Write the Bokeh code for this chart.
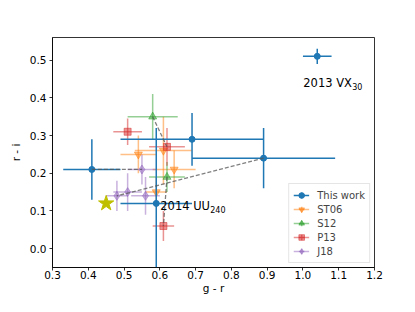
from bokeh.plotting import figure
from bokeh.models import ColumnDataSource, Range1d, FixedTicker, Legend, LegendItem, NumeralTickFormatter
from bokeh.embed import file_html
from bokeh.resources import INLINE
from bokeh.core.properties import value

# ---- data (g - r, r - i) ----
tw_x = [1.04, 0.41, 0.59, 0.69, 0.89]
tw_y = [0.51, 0.21, 0.12, 0.29, 0.24]
tw_xerr = [0.04, 0.08, 0.10, 0.20, 0.20]
tw_yerr = [0.02, 0.08, 0.20, 0.07, 0.08]

st06_x = [0.54, 0.61, 0.64, 0.59]
st06_y = [0.25, 0.26, 0.21, 0.15]
st06_xerr = [0.05, 0.08, 0.06, 0.03]
st06_yerr = [0.05, 0.09, 0.05, 0.04]

s12_x = [0.58, 0.62]
s12_y = [0.35, 0.19]
s12_xerr = [0.07, 0.05]
s12_yerr = [0.06, 0.04]

p13_x = [0.51, 0.62, 0.61]
p13_y = [0.31, 0.27, 0.06]
p13_xerr = [0.04, 0.05, 0.03]
p13_yerr = [0.035, 0.05, 0.04]

j18_x = [0.55, 0.48, 0.51, 0.56]
j18_y = [0.21, 0.14, 0.15, 0.14]
j18_xerr = [0.04, 0.03, 0.04, 0.04]
j18_yerr = [0.04, 0.04, 0.05, 0.05]

sun_x = [0.45]
sun_y = [0.12]

# same-object links: (series, index) -> (series, index)
link_from = [("tw", 1), ("tw", 4), ("s12", 0), ("s12", 1)]
link_to = [("j18", 0), ("j18", 1), ("p13", 1), ("p13", 2)]

# labelled objects (index in "This work"), main text, subscript
label_idx = [0, 2]
label_main = ["2013 VX", "2014 UU"]
label_sub = ["30", "240"]

x_ticks = [0.3, 0.4, 0.5, 0.6, 0.7, 0.8, 0.9, 1.0, 1.1, 1.2]
y_ticks = [0.0, 0.1, 0.2, 0.3, 0.4, 0.5]

series = {
    "tw": (tw_x, tw_y, tw_xerr, tw_yerr),
    "st06": (st06_x, st06_y, st06_xerr, st06_yerr),
    "s12": (s12_x, s12_y, s12_xerr, s12_yerr),
    "p13": (p13_x, p13_y, p13_xerr, p13_yerr),
    "j18": (j18_x, j18_y, j18_xerr, j18_yerr),
}
style = {
    "tw": dict(name="This work", color="#1f77b4", marker="circle", size=6, alpha=1.0),
    "st06": dict(name="ST06", color="#ff7f0e", marker="inverted_triangle", size=8, alpha=0.5),
    "s12": dict(name="S12", color="#2ca02c", marker="triangle", size=8, alpha=0.5),
    "p13": dict(name="P13", color="#d62728", marker="square", size=7, alpha=0.5),
    "j18": dict(name="J18", color="#9467bd", marker="diamond", size=9, alpha=0.5),
}

FONT = "DejaVu Sans"
NAN = float("nan")

p = figure(width=399, height=296, output_backend="svg", toolbar_location=None,
           x_range=Range1d(0.3, 1.2), y_range=Range1d(-0.05, 0.56),
           min_border_left=52, min_border_right=25, min_border_top=37, min_border_bottom=20)
p.grid.visible = False
p.background_fill_color = "white"
p.border_fill_color = "white"
p.outline_line_color = "black"
p.outline_line_width = 0.8

for ax in (p.xaxis[0], p.yaxis[0]):
    ax.major_label_text_font = FONT
    ax.major_label_text_font_size = "10.5px"
    ax.major_label_text_color = "black"
    ax.major_label_text_line_height = 0.9
    ax.axis_label_text_font = FONT
    ax.axis_label_text_font_size = "10.5px"
    ax.axis_label_text_font_style = "normal"
    ax.axis_label_text_color = "black"
    ax.axis_label_text_line_height = 0.9
    ax.major_tick_in = 0
    ax.major_tick_out = 3
    ax.minor_tick_in = 0
    ax.minor_tick_out = 0
    ax.axis_line_width = 0.8
    ax.major_tick_line_width = 0.8
    ax.formatter = NumeralTickFormatter(format="0.0")

p.xaxis[0].major_label_standoff = 0
p.xaxis[0].axis_label_standoff = 0
p.yaxis[0].major_label_standoff = 3
p.yaxis[0].axis_label_standoff = 5

p.xaxis[0].ticker = FixedTicker(ticks=x_ticks)
p.yaxis[0].ticker = FixedTicker(ticks=y_ticks)
p.xaxis[0].axis_label = "g - r"
p.yaxis[0].axis_label = "r - i"

order = ["st06", "s12", "p13", "j18", "tw"]
renderers = {}
for key in order:
    xs, ys, xe, ye = series[key]
    st = style[key]
    src = ColumnDataSource(dict(
        x=xs, y=ys,
        xl=[a - b for a, b in zip(xs, xe)], xr=[a + b for a, b in zip(xs, xe)],
        yb=[a - b for a, b in zip(ys, ye)], yt=[a + b for a, b in zip(ys, ye)],
    ))
    hs = p.segment(x0="xl", y0="y", x1="xr", y1="y", source=src, line_color=st["color"],
                   line_width=1.5, line_alpha=st["alpha"])
    p.segment(x0="x", y0="yb", x1="x", y1="yt", source=src, line_color=st["color"],
              line_width=1.5, line_alpha=st["alpha"])
    m = p.scatter(x="x", y="y", source=src, marker=st["marker"], size=st["size"],
                  fill_color=st["color"], line_color=st["color"],
                  fill_alpha=st["alpha"], line_alpha=st["alpha"])
    # legend-only cross handle (NaN point, never drawn on the plot)
    lc = p.scatter(x=[NAN], y=[NAN], marker="cross", size=8, line_color=st["color"],
                   line_width=1.5, line_alpha=st["alpha"])
    renderers[key] = [hs, lc, m]

# dashed links between measurements of the same object
lx0, ly0, lx1, ly1 = [], [], [], []
for (ka, ia), (kb, ib) in zip(link_from, link_to):
    lx0.append(series[ka][0][ia]); ly0.append(series[ka][1][ia])
    lx1.append(series[kb][0][ib]); ly1.append(series[kb][1][ib])
p.segment(x0=lx0, y0=ly0, x1=lx1, y1=ly1, line_color="#555555", line_alpha=0.75,
          line_width=1.3, line_dash="4 2")

# sun
p.scatter(x=sun_x, y=sun_y, marker="star", size=16, fill_color="#bfbf00",
          line_color="#bfbf00")

# labels
lab_x = [tw_x[i] for i in label_idx]
lab_y = [tw_y[i] for i in label_idx]
p.text(x=[lab_x[0]], y=[lab_y[0]], text=[label_main[0]], x_offset=-14, y_offset=27,
       text_font=value(FONT), text_font_size="11.5px", text_baseline="alphabetic",
       text_color="black")
p.text(x=[lab_x[0]], y=[lab_y[0]], text=[label_sub[0]], x_offset=-14 + 49, y_offset=30,
       text_font=value(FONT), text_font_size="8px", text_baseline="alphabetic",
       text_color="black")
p.text(x=[lab_x[1]], y=[lab_y[1]], text=[label_main[1]], x_offset=4, y_offset=3,
       text_font=value(FONT), text_font_size="11.5px", text_baseline="alphabetic",
       text_color="black")
p.text(x=[lab_x[1]], y=[lab_y[1]], text=[label_sub[1]], x_offset=4 + 50, y_offset=6,
       text_font=value(FONT), text_font_size="8px", text_baseline="alphabetic",
       text_color="black")

legend = Legend(items=[LegendItem(label=style[k]["name"], renderers=renderers[k])
                       for k in ["tw", "st06", "s12", "p13", "j18"]],
                location="bottom_right")
legend.label_text_font = FONT
legend.label_text_font_size = "10px"
legend.label_height = 14
legend.glyph_height = 14
legend.glyph_width = 16
legend.label_standoff = 8
legend.spacing = 0
legend.padding = 4
legend.margin = 4
legend.border_line_color = "#cccccc"
legend.border_line_width = 1
legend.background_fill_alpha = 0.8
p.add_layout(legend, "center")

open("out.html", "w").write(file_html(p, INLINE))
